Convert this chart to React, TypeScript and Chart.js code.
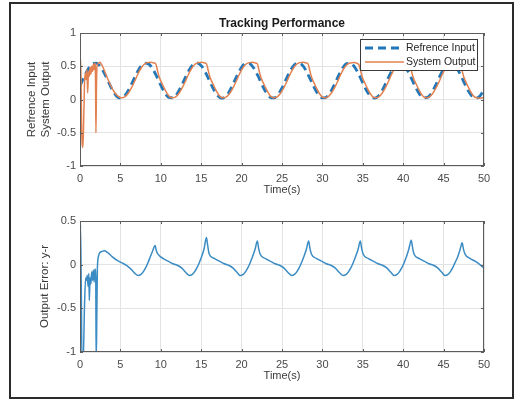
import React, { useEffect, useRef } from 'react';
import { Chart, registerables } from 'chart.js';

Chart.register(...registerables);

// ---------- data ----------
const refTime = [
  0, 0.5, 1, 1.5, 2, 2.5, 3, 3.5, 4, 4.5,
  5, 5.5, 6, 6.5, 7, 7.5, 8, 8.5, 9, 9.5,
  10, 10.5, 11, 11.5, 12, 12.5, 13, 13.5, 14, 14.5,
  15, 15.5, 16, 16.5, 17, 17.5, 18, 18.5, 19, 19.5,
  20, 20.5, 21, 21.5, 22, 22.5, 23, 23.5, 24, 24.5,
  25, 25.5, 26, 26.5, 27, 27.5, 28, 28.5, 29, 29.5,
  30, 30.5, 31, 31.5, 32, 32.5, 33, 33.5, 34, 34.5,
  35, 35.5, 36, 36.5, 37, 37.5, 38, 38.5, 39, 39.5,
  40, 40.5, 41, 41.5, 42, 42.5, 43, 43.5, 44, 44.5,
  45, 45.5, 46, 46.5, 47, 47.5, 48, 48.5, 49, 49.5,
  50,
];
const refValues = [
  0.207, 0.338, 0.456, 0.532, 0.548, 0.499, 0.398, 0.270, 0.145, 0.054,
  0.020, 0.051, 0.139, 0.263, 0.392, 0.495, 0.547, 0.534, 0.461, 0.344,
  0.213, 0.100, 0.031, 0.026, 0.083, 0.190, 0.320, 0.442, 0.525, 0.549,
  0.509, 0.414, 0.287, 0.160, 0.063, 0.021, 0.043, 0.125, 0.246, 0.376,
  0.484, 0.544, 0.540, 0.473, 0.361, 0.230, 0.112, 0.037, 0.023, 0.072,
  0.174, 0.303, 0.427, 0.517, 0.550, 0.518, 0.429, 0.305, 0.176, 0.073,
  0.023, 0.036, 0.111, 0.228, 0.359, 0.472, 0.539, 0.544, 0.485, 0.378,
  0.247, 0.127, 0.044, 0.021, 0.062, 0.158, 0.285, 0.412, 0.508, 0.549,
  0.526, 0.443, 0.322, 0.192, 0.084, 0.026, 0.031, 0.098, 0.211, 0.342,
  0.459, 0.534, 0.547, 0.496, 0.394, 0.265, 0.141, 0.052, 0.020, 0.053,
  0.143,
];

const outTime = [
  0, 0.04, 0.12, 0.2, 0.28, 0.36, 0.46, 0.56, 0.66, 0.76, 0.86,
  0.95, 1.05, 1.15, 1.25, 1.35, 1.45, 1.55, 1.65, 1.75, 1.85,
  1.92, 1.97, 2.03, 2.1, 2.25, 2.45, 2.7, 3.0, 3.4, 3.8,
  4.2, 4.6, 5.1,
  5.55, 5.95, 6.35, 6.75, 7.15, 7.55, 7.95, 8.35, 8.75, 9.15, 9.4, 9.6, 9.8, 10.15, 10.55, 10.95, 11.35,
  11.85, 12.23, 12.63, 13.03, 13.43, 13.83, 14.23, 14.63, 15.03, 15.43, 15.68, 15.88, 16.08, 16.43, 16.83, 17.23, 17.63,
  18.12, 18.52, 18.92, 19.32, 19.72, 20.12, 20.52, 20.92, 21.32, 21.72, 21.97, 22.17, 22.37, 22.72, 23.12, 23.52, 23.92,
  24.4, 24.8, 25.2, 25.6, 26.0, 26.4, 26.8, 27.2, 27.6, 28.0, 28.25, 28.45, 28.65, 29.0, 29.4, 29.8, 30.2,
  30.68, 31.08, 31.48, 31.88, 32.28, 32.68, 33.08, 33.48, 33.88, 34.28, 34.53, 34.73, 34.93, 35.28, 35.68, 36.08, 36.48,
  36.97, 37.37, 37.77, 38.17, 38.57, 38.97, 39.37, 39.77, 40.17, 40.57, 40.82, 41.02, 41.22, 41.57, 41.97, 42.37, 42.77,
  43.25, 43.65, 44.05, 44.45, 44.85, 45.25, 45.65, 46.05, 46.45, 46.85, 47.1, 47.3, 47.5, 47.85, 48.25, 48.65, 49.05,
  49.5, 50,
];
const outValues = [
  0.25, 0.66, 0.35, -0.4, -0.68, -0.72, -0.3, 0.25, 0.4, 0.3, 0.45,
  0.1, 0.42, 0.35, 0.48, 0.38, 0.5, 0.42, 0.53, 0.45, 0.55,
  0.3, -0.5, 0.1, 0.5, 0.54, 0.56, 0.52, 0.44, 0.32, 0.21,
  0.12, 0.06, 0.025,
  0.04, 0.09, 0.17, 0.27, 0.38, 0.47, 0.53, 0.555, 0.56, 0.55, 0.53, 0.43, 0.34, 0.24, 0.14, 0.06, 0.025,
  0.04, 0.09, 0.17, 0.27, 0.38, 0.47, 0.53, 0.555, 0.56, 0.55, 0.53, 0.43, 0.34, 0.24, 0.14, 0.06, 0.025,
  0.04, 0.09, 0.17, 0.27, 0.38, 0.47, 0.53, 0.555, 0.56, 0.55, 0.53, 0.43, 0.34, 0.24, 0.14, 0.06, 0.025,
  0.04, 0.09, 0.17, 0.27, 0.38, 0.47, 0.53, 0.555, 0.56, 0.55, 0.53, 0.43, 0.34, 0.24, 0.14, 0.06, 0.025,
  0.04, 0.09, 0.17, 0.27, 0.38, 0.47, 0.53, 0.55, 0.555, 0.545, 0.52, 0.43, 0.34, 0.24, 0.14, 0.06, 0.025,
  0.04, 0.09, 0.17, 0.27, 0.38, 0.47, 0.53, 0.555, 0.56, 0.55, 0.53, 0.43, 0.34, 0.24, 0.14, 0.06, 0.025,
  0.04, 0.09, 0.17, 0.27, 0.38, 0.47, 0.53, 0.555, 0.56, 0.55, 0.53, 0.43, 0.34, 0.24, 0.14, 0.06, 0.025,
  0.02, 0.03,
];

const errTime = [
  0, 0.06, 0.15, 0.25, 0.4, 0.55, 0.7, 0.8, 0.9, 1.0,
  1.1, 1.15, 1.25, 1.35, 1.45, 1.55, 1.65, 1.75, 1.85, 1.95,
  2.0, 2.08, 2.15, 2.3, 2.45, 2.7, 3.0, 3.4, 4.0, 4.6,
  5.2, 5.8, 6.3, 6.8, 7.2,
  7.5, 7.8, 8.1, 8.4, 8.7, 9.0, 9.3, 9.45, 9.65, 10.3, 10.9, 11.5, 12.1, 12.6, 13.1, 13.55,
  13.85, 14.15, 14.45, 14.75, 15.05, 15.35, 15.65, 15.8, 16.0, 16.65, 17.25, 17.85, 18.45, 18.95, 19.45, 19.85,
  20.15, 20.45, 20.75, 21.05, 21.35, 21.65, 21.95, 22.1, 22.3, 22.95, 23.55, 24.15, 24.75, 25.25, 25.75, 26.2,
  26.5, 26.8, 27.1, 27.4, 27.7, 28.0, 28.3, 28.45, 28.65, 29.3, 29.9, 30.5, 31.1, 31.6, 32.1, 32.6,
  32.9, 33.2, 33.5, 33.8, 34.1, 34.4, 34.7, 34.85, 35.05, 35.7, 36.3, 36.9, 37.5, 38.0, 38.5, 38.9,
  39.2, 39.5, 39.8, 40.1, 40.4, 40.7, 41.0, 41.15, 41.35, 42.0, 42.6, 43.2, 43.8, 44.3, 44.8, 45.2,
  45.5, 45.8, 46.1, 46.4, 46.7, 47.0, 47.3, 47.45, 47.65, 48.3, 48.9, 49.5, 50,
];
const errValues = [
  -0.05, 0.45, -0.2, -1.1, -1.1, -0.5, -0.15, -0.18, -0.12, -0.25,
  -0.1, -0.41, -0.15, -0.22, -0.08, -0.18, -0.06, -0.2, -0.05, -0.15,
  -1.1, -0.6, -0.05, 0.1, 0.14, 0.15, 0.16, 0.14, 0.09, 0.05,
  0.02, -0.01, -0.05, -0.1, -0.125,
  -0.115, -0.085, -0.04, 0.02, 0.09, 0.16, 0.22, 0.16, 0.12, 0.07, 0.04, 0.01, -0.01, -0.04, -0.09, -0.125,
  -0.115, -0.085, -0.04, 0.02, 0.09, 0.18, 0.31, 0.22, 0.12, 0.07, 0.04, 0.01, -0.01, -0.04, -0.09, -0.125,
  -0.115, -0.085, -0.04, 0.02, 0.09, 0.17, 0.27, 0.19, 0.12, 0.07, 0.04, 0.01, -0.01, -0.04, -0.09, -0.125,
  -0.115, -0.085, -0.04, 0.02, 0.09, 0.17, 0.27, 0.19, 0.12, 0.07, 0.04, 0.01, -0.01, -0.04, -0.09, -0.125,
  -0.115, -0.085, -0.04, 0.02, 0.09, 0.17, 0.27, 0.19, 0.12, 0.07, 0.04, 0.01, -0.01, -0.04, -0.09, -0.125,
  -0.115, -0.085, -0.04, 0.02, 0.09, 0.18, 0.28, 0.2, 0.12, 0.07, 0.04, 0.01, -0.01, -0.04, -0.09, -0.125,
  -0.115, -0.085, -0.04, 0.02, 0.08, 0.16, 0.25, 0.18, 0.12, 0.07, 0.04, 0.0, -0.04,
];

const titleText = 'Tracking Performance';
const legendLabels = ['Refrence Input', 'System Output'];
const topYTitle = ['Refrence Input', 'System Output'];
const bottomYTitle = 'Output Error: y-r';
const xTitle = 'Time(s)';

// ---------- styling ----------
const FONT = '"Liberation Sans", Arial, Helvetica, sans-serif';
const BLUE = '#2277b8';
const ORANGE = '#e2814f';
const ERR_BLUE = '#3b8cc4';
const TICK_COLOR = '#4a4a4a';
const GRID = '#e3e3e3';

const zip = (t: number[], v: number[]) => t.map((x, i) => ({ x, y: v[i] }));

const framePlugin = {
  id: 'frameBox',
  afterDraw(chart: any) {
    const { ctx, chartArea: a, scales } = chart;
    ctx.save();
    ctx.strokeStyle = '#5c5c5c';
    ctx.lineWidth = 1;
    ctx.strokeRect(a.left + 0.5, a.top + 0.5, a.right - a.left - 1, a.bottom - a.top - 1);
    const tl = 3;
    ctx.beginPath();
    scales.x.ticks.forEach((t: any) => {
      const px = Math.round(scales.x.getPixelForValue(t.value)) + 0.5;
      ctx.moveTo(px, a.top);
      ctx.lineTo(px, a.top + tl);
      ctx.moveTo(px, a.bottom);
      ctx.lineTo(px, a.bottom - tl);
    });
    scales.y.ticks.forEach((t: any) => {
      const py = Math.round(scales.y.getPixelForValue(t.value)) + 0.5;
      ctx.moveTo(a.left, py);
      ctx.lineTo(a.left + tl, py);
      ctx.moveTo(a.right, py);
      ctx.lineTo(a.right - tl, py);
    });
    ctx.stroke();
    ctx.restore();
  },
};

const titlePlugin = {
  id: 'plotTitle',
  afterDraw(chart: any) {
    const { ctx, chartArea: a } = chart;
    ctx.save();
    ctx.font = `bold 12px ${FONT}`;
    ctx.fillStyle = '#1a1a1a';
    ctx.textAlign = 'center';
    ctx.textBaseline = 'middle';
    ctx.fillText(titleText, (a.left + a.right) / 2, a.top - 9);
    ctx.restore();
  },
};

const legendPlugin = {
  id: 'insideLegend',
  afterDatasetsDraw(chart: any) {
    const { ctx, chartArea: a } = chart;
    const w = 118;
    const h = 32;
    const left = a.right - 6 - w;
    const top = a.top + 6;
    ctx.save();
    ctx.fillStyle = '#ffffff';
    ctx.fillRect(left, top, w, h);
    ctx.strokeStyle = '#3a3a3a';
    ctx.lineWidth = 1;
    ctx.strokeRect(left + 0.5, top + 0.5, w - 1, h - 1);
    ctx.font = `10.5px ${FONT}`;
    ctx.fillStyle = '#262626';
    ctx.textBaseline = 'middle';
    ctx.textAlign = 'left';
    const order = [1, 0];
    legendLabels.forEach((label, i) => {
      const ds = chart.data.datasets[order[i]];
      const y = top + 9 + i * 14;
      ctx.beginPath();
      ctx.strokeStyle = ds.borderColor;
      ctx.lineWidth = ds.borderWidth;
      ctx.setLineDash(ds.borderDash || []);
      ctx.moveTo(left + 5, y);
      ctx.lineTo(left + 44, y);
      ctx.stroke();
      ctx.setLineDash([]);
      ctx.fillText(label, left + 46, y + 0.5);
    });
    ctx.restore();
  },
};

function makeOptions(yMin: number, yMax: number, yTitle: any, yTitlePad: number, padTop: number, padBottom: number) {
  return {
    responsive: false,
    animation: false as const,
    devicePixelRatio: 1,
    layout: { padding: { left: 0, right: 45, top: padTop, bottom: padBottom } },
    plugins: { legend: { display: false }, tooltip: { enabled: false }, title: { display: false } },
    elements: { point: { radius: 0 } },
    scales: {
      x: {
        type: 'linear' as const,
        min: 0,
        max: 50,
        afterFit: (s: any) => { s.height = 34; },
        ticks: { stepSize: 5, color: TICK_COLOR, font: { family: FONT, size: 11 }, padding: 6, maxRotation: 0, autoSkip: false },
        grid: { color: GRID, drawTicks: false },
        border: { display: false },
        title: { display: true, text: xTitle, color: '#3a3a3a', font: { family: FONT, size: 11 }, padding: { top: 0, bottom: 3 } },
      },
      y: {
        type: 'linear' as const,
        min: yMin,
        max: yMax,
        afterFit: (s: any) => { s.width = 80; },
        ticks: {
          stepSize: 0.5,
          color: TICK_COLOR,
          font: { family: FONT, size: 11 },
          padding: 4,
          callback: (v: any) => `${Math.round(Number(v) * 10) / 10}`,
        },
        grid: { color: GRID, drawTicks: false },
        border: { display: false },
        title: { display: true, text: yTitle, color: '#3a3a3a', font: { family: FONT, size: 11.5 }, padding: { top: yTitlePad, bottom: 0 } },
      },
    },
  };
}

export default function App() {
  const topRef = useRef<HTMLCanvasElement | null>(null);
  const botRef = useRef<HTMLCanvasElement | null>(null);

  useEffect(() => {
    if (!topRef.current || !botRef.current) return;
    const top = new Chart(topRef.current, {
      type: 'line',
      data: {
        datasets: [
          {
            label: legendLabels[1],
            data: zip(outTime, outValues),
            borderColor: ORANGE,
            borderWidth: 1.5,
            cubicInterpolationMode: 'monotone',
            order: 1,
          },
          {
            label: legendLabels[0],
            data: zip(refTime, refValues),
            borderColor: BLUE,
            borderWidth: 2.8,
            borderDash: [8, 5],
            cubicInterpolationMode: 'monotone',
            order: 2,
          },
        ],
      },
      options: makeOptions(-1, 1, topYTitle, 25, 33, 0) as any,
      plugins: [framePlugin, titlePlugin, legendPlugin],
    });
    const bot = new Chart(botRef.current, {
      type: 'line',
      data: {
        datasets: [
          {
            label: bottomYTitle,
            data: zip(errTime, errValues),
            borderColor: ERR_BLUE,
            borderWidth: 1.5,
            cubicInterpolationMode: 'monotone',
          },
        ],
      },
      options: makeOptions(-1, 0.5, bottomYTitle, 38, 21, 15) as any,
      plugins: [framePlugin],
    });
    return () => {
      top.destroy();
      bot.destroy();
    };
  }, []);

  return (
    <div style={{ position: 'absolute', left: 0, top: 0, width: 529, height: 401, background: '#fff', overflow: 'hidden' }}>
      <div style={{ position: 'absolute', left: 9, top: 2, width: 501, height: 393, border: '2px solid #2b2b2b' }} />
      <canvas ref={topRef} width={529} height={200} style={{ position: 'absolute', left: 0, top: 0, width: 529, height: 200 }} />
      <canvas ref={botRef} width={529} height={201} style={{ position: 'absolute', left: 0, top: 200, width: 529, height: 201 }} />
    </div>
  );
}
